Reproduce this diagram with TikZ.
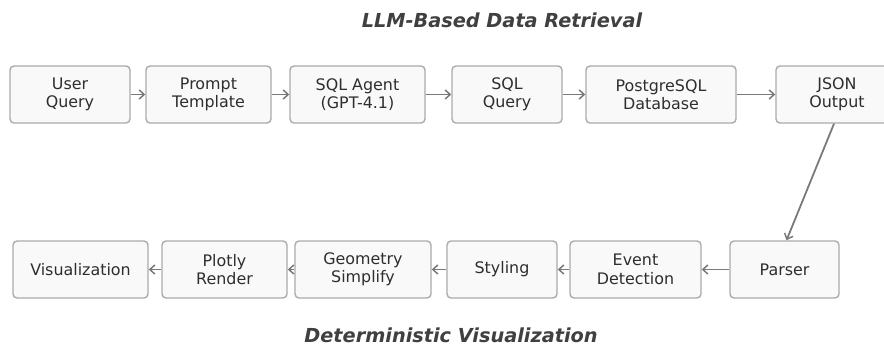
\documentclass[tikz,border=0pt]{standalone}
\usepackage{fontspec}
\setmainfont{DejaVu Sans}
\usetikzlibrary{arrows.meta}
\definecolor{boxfill}{HTML}{F9F9F9}
\definecolor{boxline}{HTML}{ABABAB}
\definecolor{arrowgray}{HTML}{7A7A7A}
\definecolor{textgray}{HTML}{2E2E2E}
\definecolor{titlegray}{HTML}{404040}
\tikzset{
  stagebox/.style={draw=boxline, line width=1.4pt, fill=boxfill, rounded corners=4pt,
    minimum height=57pt, inner sep=0pt, align=center, text=textgray,
    font=\fontsize{15.9}{18.5}\selectfont},
  flow/.style={draw=arrowgray, line width=1.8pt,
    -{Straight Barb[length=5pt,width=9pt,line width=1.5pt]}},
  heading/.style={text=titlegray, font=\fontsize{19.3}{22}\selectfont\bfseries\itshape}
}
\begin{document}
\begin{tikzpicture}[x=1pt,y=-1pt]
\useasboundingbox (0,0) rectangle (884,345);
\clip (0,0) rectangle (884,345);
\fill[white] (0,0) rectangle (884,345);

\node[heading] (t1) at (502,20) {LLM-Based Data Retrieval};
\node[heading] (t2) at (451,335) {Deterministic Visualization};

% retrieval stages
\node[stagebox, minimum width=120pt] (uq) at (70,94.5) {User\\Query};
\node[stagebox, minimum width=125pt] (pt) at (208.5,94.5) {Prompt\\Template};
\node[stagebox, minimum width=135pt] (sa) at (357.5,94.5) {SQL Agent\\(GPT-4.1)};
\node[stagebox, minimum width=110pt] (sq) at (507,94.5) {SQL\\Query};
\node[stagebox, minimum width=150pt] (pg) at (661,94.5) {PostgreSQL\\Database};
\node[stagebox, minimum width=122pt] (js) at (837,94.5) {JSON\\Output};

% visualization stages
\node[stagebox, minimum width=135pt] (vi) at (80.5,269.5) {Visualization};
\node[stagebox, minimum width=125pt] (pr) at (224.5,269.5) {Plotly\\Render};
\node[stagebox, minimum width=136pt] (gs) at (363,269.5) {Geometry\\Simplify};
\node[stagebox, minimum width=110pt] (st) at (502,269.5) {Styling};
\node[stagebox, minimum width=131pt] (ed) at (635.5,269.5) {Event\\Detection};
\node[stagebox, minimum width=109pt] (pa) at (784.5,269.5) {Parser};

\draw[flow] (uq) -- (pt);
\draw[flow] (pt) -- (sa);
\draw[flow] (sa) -- (sq);
\draw[flow] (sq) -- (pg);
\draw[flow] (pg) -- (js);
\draw[flow] ([xshift=-3pt]js.south) -- ([xshift=2pt]pa.north);
\draw[flow] (pa) -- (ed);
\draw[flow] (ed) -- (st);
\draw[flow] (st) -- (gs);
\draw[flow] (gs) -- (pr);
\draw[flow] (pr) -- (vi);
\end{tikzpicture}
\end{document}
